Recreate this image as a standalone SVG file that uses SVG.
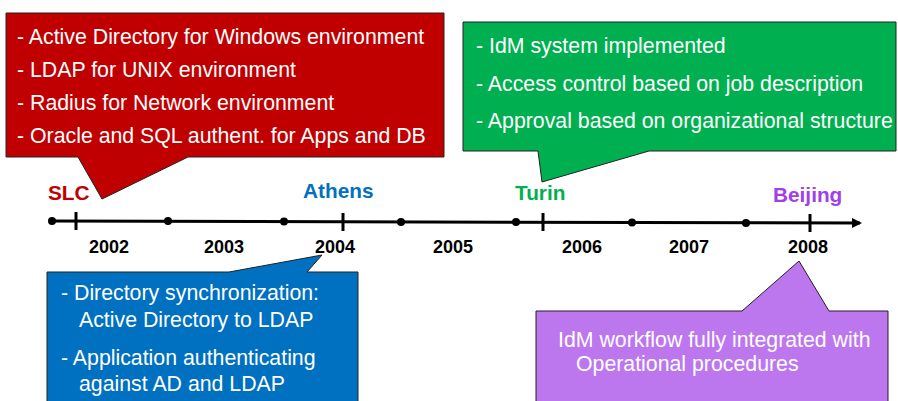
<svg xmlns="http://www.w3.org/2000/svg" width="898" height="401" viewBox="0 0 898 401">
<style>
.co{stroke:#222;stroke-width:1;stroke-linejoin:miter}
.ct{font-family:"Liberation Sans",Arial,sans-serif;font-size:21.3px;fill:#fff}
.yr{font-family:"Liberation Sans",Arial,sans-serif;font-size:18px;font-weight:bold;fill:#000;text-anchor:middle}
.city{font-family:"Liberation Sans",Arial,sans-serif;font-size:20.8px;font-weight:bold}
.axis{stroke:#000;stroke-width:3;fill:none}
.tick{stroke:#000;stroke-width:3}
.dot{fill:#000}
</style>
<defs>
<marker id="arr" markerWidth="10" markerHeight="10" refX="8" refY="5" orient="auto" markerUnits="userSpaceOnUse">
<path d="M0,0 L10,5 L0,10 Z" fill="#000"/>
</marker>
</defs>
<g id="connectors">
<line class="axis" x1="52" y1="221" x2="860" y2="223" marker-end="url(#arr)"/>
<circle class="dot" cx="52" cy="221" r="4"/>
<circle class="dot" cx="168" cy="221" r="4"/>
<circle class="dot" cx="284" cy="221.5" r="4"/>
<circle class="dot" cx="401" cy="222" r="4"/>
<circle class="dot" cx="516" cy="222" r="4"/>
<circle class="dot" cx="632" cy="222.5" r="4"/>
<circle class="dot" cx="746" cy="223" r="4"/>
<line class="tick" x1="76" y1="212" x2="76" y2="230"/>
<line class="tick" x1="343" y1="213" x2="343" y2="231"/>
<line class="tick" x1="543" y1="213" x2="543" y2="231"/>
<line class="tick" x1="810" y1="214" x2="810" y2="232"/>
</g>
<g id="years">
<text class="yr" x="109" y="253">2002</text>
<text class="yr" x="224" y="253">2003</text>
<text class="yr" x="335" y="253">2004</text>
<text class="yr" x="453" y="253">2005</text>
<text class="yr" x="582" y="253">2006</text>
<text class="yr" x="689" y="253">2007</text>
<text class="yr" x="808" y="253">2008</text>
</g>
<g id="cities">
<text class="city" x="48" y="200" fill="#C00000">SLC</text>
<text class="city" x="303" y="198" fill="#0070C0">Athens</text>
<text class="city" x="515" y="200" fill="#00B050">Turin</text>
<text class="city" x="773" y="202" fill="#A040E8">Beijing</text>
</g>
<g id="slc-callout">
<path class="co" fill="#C00000" d="M6,13 H444 V157 H188 L102,199 L78,157 H6 Z"/>
<text class="ct" x="17" y="44">- Active Directory for Windows environment</text>
<text class="ct" x="17" y="77">- LDAP for UNIX environment</text>
<text class="ct" x="17" y="110">- Radius for Network environment</text>
<text class="ct" x="17" y="143">- Oracle and SQL authent. for Apps and DB</text>
</g>
<g id="turin-callout">
<path class="co" fill="#00B050" d="M463,22 H896 V151 H649 L542,182 L538,151 H463 Z"/>
<text class="ct" x="476" y="53">- IdM system implemented</text>
<text class="ct" x="476" y="91">- Access control based on job description</text>
<text class="ct" x="476" y="128">- Approval based on organizational structure</text>
</g>
<g id="athens-callout">
<path class="co" fill="#0070C0" d="M47,272 H229 L322,255 L307,272 H358 V402 H47 Z"/>
<text class="ct" x="61" y="300">- Directory synchronization:</text>
<text class="ct" x="79" y="327">Active Directory to LDAP</text>
<text class="ct" x="61" y="365">- Application authenticating</text>
<text class="ct" x="79" y="391">against AD and LDAP</text>
</g>
<g id="beijing-callout">
<path class="co" fill="#BC77EE" d="M536,311 H742 L799,261 L829,311 H888 V402 H536 Z"/>
<text class="ct" x="558" y="347">IdM workflow fully integrated with</text>
<text class="ct" x="576" y="371">Operational procedures</text>
</g>
</svg>
